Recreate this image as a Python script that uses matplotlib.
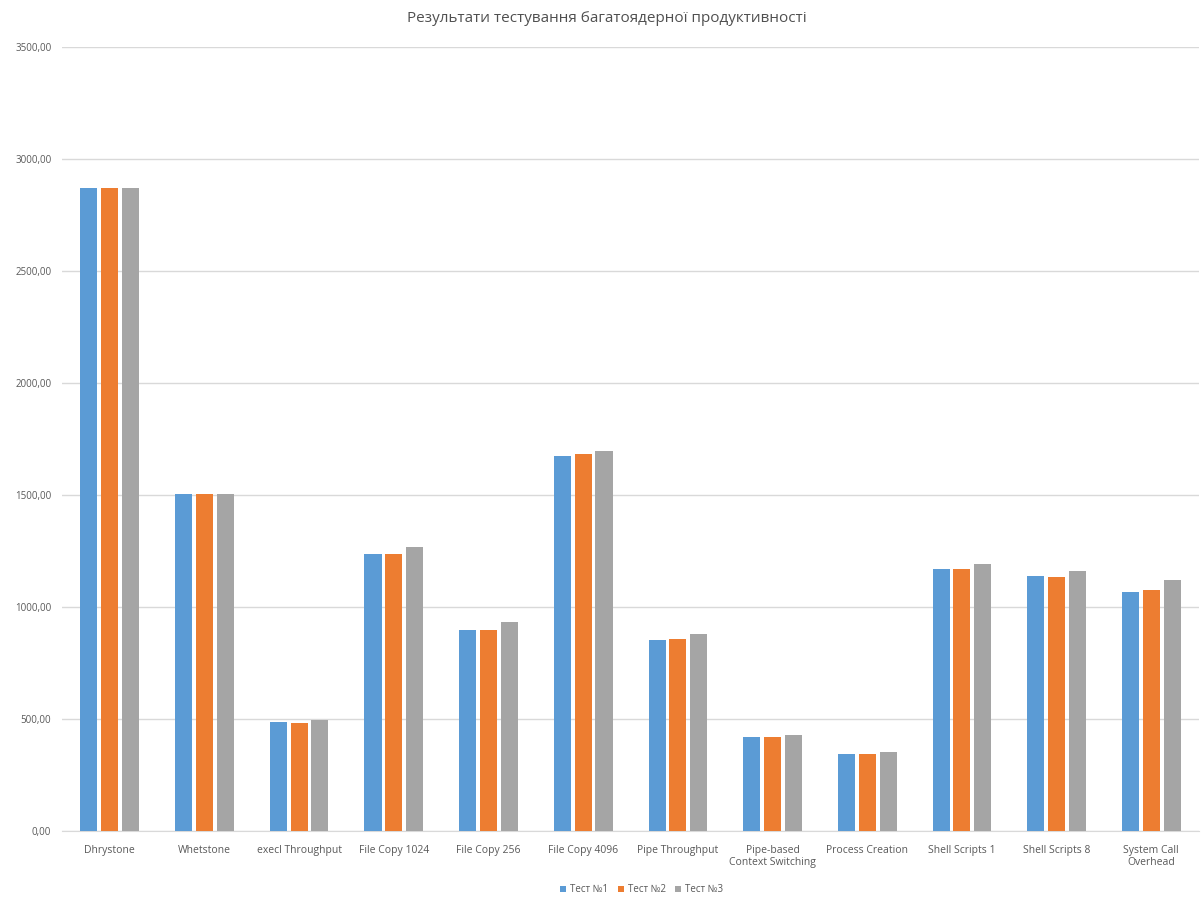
import matplotlib
matplotlib.use("Agg")
import matplotlib.pyplot as plt
import numpy as np

# дані з діаграми
categories = ["Dhrystone", "Whetstone", "execl Throughput", "File Copy 1024",
              "File Copy 256", "File Copy 4096", "Pipe Throughput",
              "Pipe-based\nContext Switching", "Process Creation",
              "Shell Scripts 1", "Shell Scripts 8", "System Call\nOverhead"]
test1 = [2872, 1505, 486, 1238, 896, 1675, 852, 421, 342, 1171, 1138, 1068]
test2 = [2872, 1505, 482, 1238, 896, 1683, 857, 421, 342, 1171, 1134, 1077]
test3 = [2872, 1505, 496, 1267, 933, 1698, 880, 427, 351, 1194, 1160, 1119]
series_names = ["Тест №1", "Тест №2", "Тест №3"]
colors = ["#5B9BD5", "#ED7D31", "#A5A5A5"]

plt.rcParams['font.family'] = ['Open Sans', 'DejaVu Sans']
text_color = "#595959"

fig = plt.figure(figsize=(12.01, 9), dpi=100)
ax = fig.add_axes([0.052, 0.0767, 0.946, 0.871])

x = np.arange(len(categories))
w = 0.18
step = 0.22
for i, (vals, name, col) in enumerate(zip([test1, test2, test3], series_names, colors)):
    ax.bar(x + (i - 1) * step, vals, width=w, color=col, label=name, zorder=3)

ax.set_xlim(-0.5, len(categories) - 0.5)
ax.set_ylim(0, 3500)
ax.set_yticks(np.arange(0, 3501, 500))
ax.set_yticklabels([f"{v:.2f}".replace(".", ",") for v in np.arange(0, 3501, 500)],
                   fontsize=7, color=text_color)
ax.set_xticks(x)
ax.set_xticklabels(categories, fontsize=7.5, color=text_color)
ax.tick_params(axis='both', length=0)
ax.tick_params(axis='x', pad=10)
ax.tick_params(axis='y', pad=8)

ax.grid(axis='y', color="#D9D9D9", linewidth=1, zorder=0)
for s in ['top', 'right', 'left']:
    ax.spines[s].set_visible(False)
ax.spines['bottom'].set_color("#D9D9D9")

fig.text(0.505, 0.979, "Результати тестування багатоядерної продуктивності",
         ha='center', va='center', fontsize=11, color="#505050")

ax.legend(loc='center', bbox_to_anchor=(0.51, -0.075), ncol=3, frameon=False,
          fontsize=7, handlelength=0.6, handleheight=0.6, handletextpad=0.4,
          columnspacing=1.0, labelcolor=text_color)

fig.savefig("out.png", dpi=100)
